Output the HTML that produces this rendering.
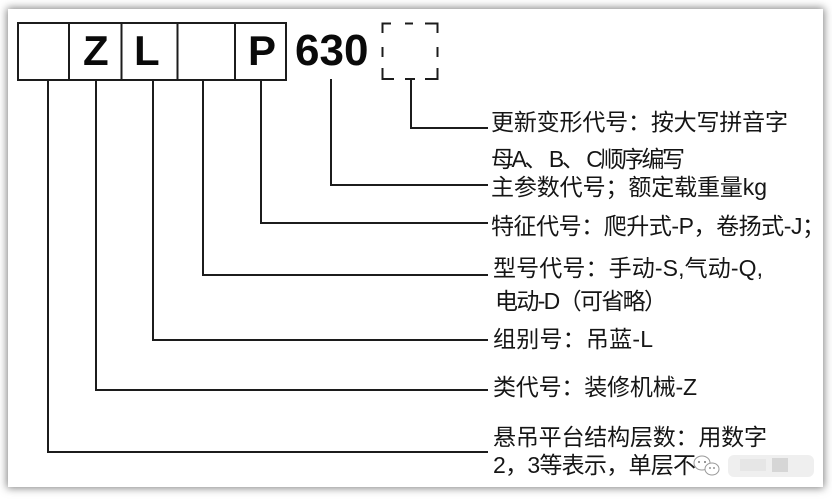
<!DOCTYPE html>
<html>
<head>
<meta charset="utf-8">
<style>
  html, body { margin:0; padding:0; width:832px; height:499px; background:#ffffff; overflow:hidden; }
  .card { position:absolute; left:8px; top:9px; width:815px; height:478px; background:#fff;
          box-shadow: 0 0 8px 1px rgba(0,0,0,0.5); }
  svg { position:absolute; left:0; top:0; }
  .cn { font-family: "Liberation Sans", "Noto Sans CJK SC", sans-serif; font-size:23px; fill:#151515; }
  .big { font-family: "Liberation Sans", sans-serif; font-weight:bold; fill:#0a0a0a; }
</style>
</head>
<body>
<div class="card"></div>
<svg width="832" height="499" viewBox="0 0 832 499" xmlns="http://www.w3.org/2000/svg">
  <defs>
    <clipPath id="cardclip"><rect x="8" y="9" width="815" height="478"/></clipPath>
  </defs>
  <g clip-path="url(#cardclip)">
  <!-- main box -->
  <g stroke="#1c1c1c" stroke-width="2" fill="none">
    <rect x="18" y="23" width="268" height="57"/>
    <line x1="69" y1="23" x2="69" y2="80"/>
    <line x1="121.5" y1="23" x2="121.5" y2="80"/>
    <line x1="177.5" y1="23" x2="177.5" y2="80"/>
    <line x1="235" y1="23" x2="235" y2="80"/>
  </g>
  <!-- dashed box -->
  <g stroke="#1c1c1c" stroke-width="2" fill="none">
    <path d="M391 23.5 H382.5 V33"/>
    <path d="M405 23.5 H413"/>
    <path d="M425 23.5 H437.5 V33"/>
    <path d="M382.5 47 V57"/>
    <path d="M437.5 47 V57"/>
    <path d="M382.5 68 V79 H394"/>
    <path d="M405 79 H415"/>
    <path d="M437.5 68 V79 H425"/>
  </g>
  <!-- letters -->
  <text class="big" x="83" y="65" font-size="42">Z</text>
  <text class="big" x="134" y="65" font-size="42">L</text>
  <text class="big" x="248" y="65" font-size="42">P</text>
  <text class="big" x="295" y="65" font-size="44">630</text>

  <!-- connectors -->
  <g stroke="#1c1c1c" stroke-width="2" fill="none">
    <path d="M48 80 V452 H488"/>
    <path d="M96 80 V390 H488"/>
    <path d="M153 80 V340 H488"/>
    <path d="M203 80 V275 H488"/>
    <path d="M261 80 V223 H488"/>
    <path d="M331 79 V185 H488"/>
    <path d="M411 79 V128 H488"/>
  </g>

  <!-- labels -->
  <text class="cn" x="491" y="130" textLength="297" lengthAdjust="spacing">更新变形代号：按大写拼音字</text>
  <text class="cn" x="491" y="167" textLength="194" lengthAdjust="spacing">母A、 B、 C顺序编写</text>
  <text class="cn" x="491" y="195" textLength="276" lengthAdjust="spacing">主参数代号；额定载重量kg</text>
  <text class="cn" x="491" y="234" textLength="334" lengthAdjust="spacing">特征代号：爬升式-P，卷扬式-J；</text>
  <text class="cn" x="493" y="276" textLength="270" lengthAdjust="spacing">型号代号：手动-S,气动-Q,</text>
  <text class="cn" x="495" y="309" textLength="172" lengthAdjust="spacing">电动-D（可省略）</text>
  <text class="cn" x="493" y="347" textLength="160" lengthAdjust="spacing">组别号：吊蓝-L</text>
  <text class="cn" x="493" y="395" textLength="204" lengthAdjust="spacing">类代号：装修机械-Z</text>
  <text class="cn" x="493" y="445" textLength="274" lengthAdjust="spacing">悬吊平台结构层数：用数字</text>
  <text class="cn" x="493" y="473" textLength="203" lengthAdjust="spacing">2，3等表示，单层不</text>

  <!-- watermark -->
  <rect x="728" y="455" width="86" height="22" rx="6" fill="#efefef"/>
  <rect x="772" y="458" width="16" height="14" fill="#d6d6d6"/>
  <rect x="740" y="459" width="26" height="12" fill="#e6e6e6"/>
  <g fill="#fff" stroke="#999" stroke-width="1">
    <ellipse cx="702" cy="463" rx="8" ry="7"/>
    <ellipse cx="712" cy="469" rx="7" ry="6"/>
  </g>
  <g fill="#777">
    <circle cx="699" cy="462" r="1"/>
    <circle cx="705" cy="462" r="1"/>
    <circle cx="710" cy="468" r="0.9"/>
    <circle cx="714" cy="468" r="0.9"/>
  </g>
  </g>
</svg>
</body>
</html>
